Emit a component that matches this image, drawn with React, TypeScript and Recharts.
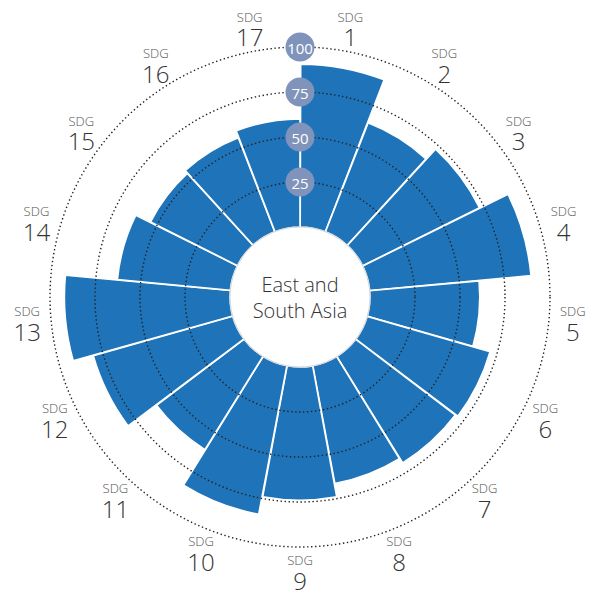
import { RadialBarChart, RadialBar, PolarAngleAxis, PolarRadiusAxis } from "recharts"

// SDG index scores for the region, read clockwise from the top
const sdgGoals = ["1", "2", "3", "4", "5", "6", "7", "8", "9", "10", "11", "12", "13", "14", "15", "16", "17"]
const regionScores = [90.5, 65, 72.5, 90, 61, 71, 69.5, 66.5, 74, 84, 61, 80.5, 92, 63, 54, 56, 60]
const ringTicks = [0, 25, 50, 75, 100]
const centerLines = ["East and", "South Asia"]

const CX = 300
const CY = 297
const FONT = "'Open Sans', 'Noto Sans', sans-serif"
// angle scale puts each goal's band start at its tick, so rotate by one band
const BAND = 360 / sdgGoals.length
const START = 90 - BAND

const chartData = sdgGoals.map((goal, i) => ({ goal, score: regionScores[i] }))

function GoalTick(props: any) {
  const { payload } = props
  const rad = ((payload.coordinate + BAND / 2) * Math.PI) / 180
  const r = 274
  const x = CX + r * Math.cos(rad)
  const y = CY - r * Math.sin(rad)
  return (
    <g>
      <text x={x} y={y - 11} textAnchor="middle" dominantBaseline="central" fontSize={13} fill="#555" fontFamily={FONT} fontWeight={300}>
        SDG
      </text>
      <text x={x} y={y + 9} textAnchor="middle" dominantBaseline="central" fontSize={24} fill="#333" fontFamily={FONT} fontWeight={300}>
        {payload.value}
      </text>
    </g>
  )
}

function RingTick(props: any) {
  const { x, y, payload } = props
  const r = Math.hypot(x - CX, y - CY)
  if (payload.value === 0) {
    return (
      <g>
        <circle cx={CX} cy={CY} r={r} fill="#fff" stroke="#c8c8c8" strokeWidth={0.8} />
        {centerLines.map((line, i) => (
          <text key={line} x={CX} y={CY - 13 + i * 26} textAnchor="middle" dominantBaseline="central" fontSize={20} fill="#333" fontFamily={FONT} fontWeight={300}>
            {line}
          </text>
        ))}
      </g>
    )
  }
  return (
    <g>
      <circle cx={CX} cy={CY} r={r} fill="none" stroke="#222" strokeWidth={1.4} strokeDasharray="1.4 2.6" />
      <circle cx={x} cy={y} r={14.5} fill="#8093bb" />
      <text x={x} y={y + 1} textAnchor="middle" dominantBaseline="central" fontSize={15} fill="#fff" fontFamily={FONT}>
        {payload.value}
      </text>
    </g>
  )
}

export default function App() {
  return (
    <div style={{ position: "absolute", left: 0, top: 0, background: "#fff" }}>
      <RadialBarChart
        width={596}
        height={592}
        data={chartData}
        layout="centric"
        cx={CX}
        cy={CY}
        innerRadius={70}
        outerRadius={250}
        startAngle={START}
        endAngle={START - 360}
        barCategoryGap={0}
        barGap={0}
        margin={{ top: 0, right: 0, bottom: 0, left: 0 }}
      >
        <PolarAngleAxis type="category" dataKey="goal" axisLine={false} tickLine={false} tick={<GoalTick />} />
        <RadialBar dataKey="score" fill="#1e73b9" stroke="#fff" strokeWidth={1.6} isAnimationActive={false} />
        <PolarRadiusAxis type="number" domain={[0, 100]} ticks={ringTicks} angle={90} axisLine={false} tick={<RingTick />} />
      </RadialBarChart>
    </div>
  )
}
